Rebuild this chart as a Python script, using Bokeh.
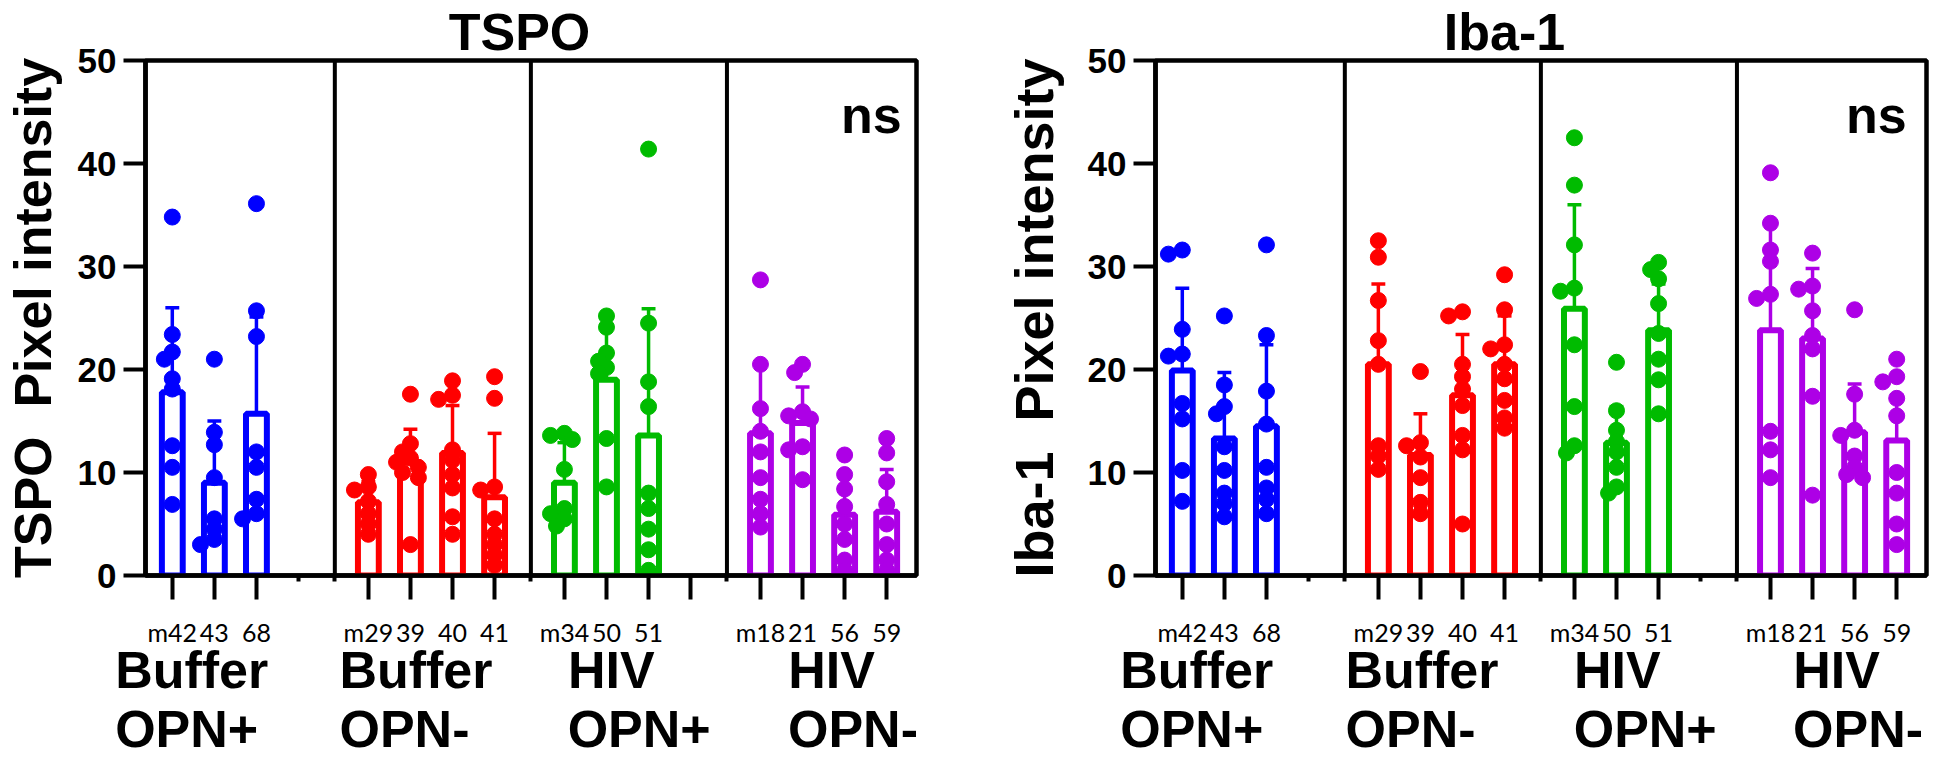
import math
from bokeh.plotting import figure
from bokeh.models import Range1d, FixedTicker, Label, LinearAxis
from bokeh.layouts import row
from bokeh.embed import file_html
from bokeh.resources import INLINE

# ---------------- data ----------------
group_line1 = ["Buffer", "Buffer", "HIV", "HIV"]
group_line2 = ["OPN+", "OPN-", "OPN+", "OPN-"]
animal_labels = [["m42", "43", "68"], ["m29", "39", "40", "41"],
                 ["m34", "50", "51"], ["m18", "21", "56", "59"]]
group_colors = ["#0000FF", "#FF0000", "#00BB00", "#AD00E6"]

tspo_mean = [[17.8, 9.0, 15.7], [7.1, 11.0, 11.9, 7.6],
             [9.0, 19.0, 13.6], [13.8, 14.8, 5.9, 6.2]]
tspo_sd = [[8.2, 6.0, 9.4], [2.0, 3.2, 4.6, 6.2],
           [3.9, 5.3, 12.3], [6.7, 3.5, 3.9, 4.1]]
tspo_points = [
    [[34.8, 23.4, 21.7, 21.0, 19.1, 18.1, 12.6, 10.5, 6.9],
     [21.0, 13.9, 12.7, 9.5, 5.5, 4.5, 3.5, 3.0],
     [36.1, 25.7, 23.2, 12.0, 10.5, 7.4, 6.0, 5.5]],
    [[9.8, 8.6, 8.3, 7.2, 6.0, 5.0, 4.0],
     [17.6, 12.8, 12.0, 11.4, 11.0, 10.5, 10.0, 9.5, 3.0],
     [18.9, 17.5, 17.1, 12.2, 11.2, 9.8, 8.5, 5.7, 4.0],
     [19.3, 17.2, 8.6, 8.3, 5.5, 4.0, 3.0, 2.0, 1.0]],
    [[13.8, 13.6, 13.2, 10.3, 6.5, 6.0, 5.5, 4.8],
     [25.2, 24.1, 21.6, 20.8, 20.2, 19.6, 13.3, 8.6],
     [41.4, 24.5, 18.8, 16.4, 8.0, 6.5, 4.5, 2.5, 0.5]],
    [[28.7, 20.5, 16.2, 14.0, 12.0, 9.5, 7.4, 6.0, 4.7],
     [20.5, 19.7, 15.9, 15.5, 15.2, 12.5, 12.2, 9.3],
     [11.7, 9.8, 8.4, 6.7, 5.0, 3.5, 1.5, 0.5],
     [13.3, 11.9, 9.1, 6.9, 5.0, 3.0, 1.5, 0.5]],
]

iba_mean = [[19.9, 13.3, 14.5], [20.5, 11.7, 17.5, 20.5],
            [25.9, 12.9, 23.8], [23.8, 23.0, 13.9, 13.1]]
iba_sd = [[8.0, 6.4, 7.9], [7.8, 4.0, 5.9, 4.7],
          [10.1, 3.5, 4.5], [10.5, 6.8, 4.7, 4.4]]
iba_points = [
    [[31.6, 31.2, 23.9, 21.5, 21.3, 16.7, 15.2, 10.2, 7.2],
     [25.2, 18.5, 16.4, 15.7, 12.5, 10.2, 8.0, 7.0, 5.7],
     [32.1, 23.3, 17.9, 14.7, 10.5, 8.5, 7.4, 6.0]],
    [[32.5, 30.9, 26.7, 22.8, 20.5, 12.6, 11.6, 10.3],
     [19.8, 12.9, 12.6, 11.5, 9.5, 7.1, 6.0],
     [25.6, 25.2, 20.5, 19.3, 18.1, 16.5, 13.6, 12.2, 5.0],
     [29.2, 25.8, 22.4, 22.0, 20.5, 19.1, 17.0, 15.3, 14.3]],
    [[42.5, 37.9, 32.1, 27.9, 27.6, 22.4, 16.4, 12.6, 11.9],
     [20.7, 16.0, 14.1, 13.0, 12.0, 10.5, 8.6, 8.0],
     [30.4, 29.7, 28.8, 26.4, 23.5, 21.0, 19.0, 15.7]],
    [[39.1, 34.2, 31.6, 30.5, 27.3, 26.9, 14.0, 12.2, 9.5],
     [31.3, 28.1, 27.8, 25.7, 23.3, 22.0, 17.4, 7.8],
     [25.8, 17.6, 14.1, 13.6, 11.6, 10.5, 9.8, 9.5],
     [21.0, 19.3, 18.8, 17.2, 15.5, 10.0, 8.0, 5.0, 3.0]],
]

# ---------------- layout ----------------
SLOT_PX = 42.4
FRAME_W = 777
FRAME_H = 515
X_END = FRAME_W / SLOT_PX
PX_Y = FRAME_H / 50.0
FIRST = 0.637
PERIOD = 4.66
DIV_OFF = -0.16
BAR_W = 21 / SLOT_PX
CAP = 7 / SLOT_PX
BOLD_FONT = "Liberation Sans"
HEIGHT = 760
TOP_B = 60
BOT_B = HEIGHT - TOP_B - FRAME_H
GROUP_SIZE = 52
TITLE_SIZE = 52
# advance widths (1/1000 em) of a bold Arial-metric face, to left-align texts
ADV = {"B": 722, "u": 611, "f": 333, "e": 556, "r": 389, "H": 722, "I": 278,
       "V": 667, "O": 778, "P": 667, "N": 722, "+": 584, "-": 333,
       "T": 611, "S": 667, "b": 611, "a": 556, "1": 556}


def text_w(t, size):
    return sum(ADV[c] for c in t) * size / 1000.0


def slot_x(g, s):
    return round(FIRST + g * PERIOD + s, 3)


def swarm(xc, vals):
    placed = []
    out = []
    for v in vals:
        for off in [0, -8, 8, -14, 14, -20, 20]:
            ok = True
            for (px, py) in placed:
                if math.hypot(px - off, py - v * PX_Y) < 10:
                    ok = False
                    break
            if ok:
                break
        placed.append((off, v * PX_Y))
        out.append(xc + off / SLOT_PX)
    return out


def label_axis(lines, grp_px, standoff):
    ticks, ov = [], {}
    for g, t in enumerate(lines):
        c = round((grp_px[g] + text_w(t, GROUP_SIZE) / 2.0) / SLOT_PX, 4)
        ticks.append(c)
        ov[c] = t
    ax = LinearAxis(ticker=FixedTicker(ticks=ticks, minor_ticks=[]), major_label_overrides=ov)
    ax.axis_line_color = None
    ax.major_tick_line_color = None
    ax.minor_tick_line_color = None
    ax.major_tick_in = 0
    ax.major_tick_out = 0
    ax.major_label_standoff = standoff
    ax.major_label_text_font = BOLD_FONT
    ax.major_label_text_font_style = "bold"
    ax.major_label_text_font_size = "%dpx" % GROUP_SIZE
    ax.major_label_text_color = "black"
    return ax


def make_panel(title, ylabel, means, sds, points, width, left, empty_major, minor_slots,
               title_px, ylab_size, ylab_standoff, ns_px, grp_px):
    right = width - left - FRAME_W
    p = figure(width=width, height=HEIGHT, x_range=Range1d(0, X_END), y_range=Range1d(0, 50),
               output_backend="svg", toolbar_location=None, title=title,
               min_border_left=left, min_border_right=right,
               min_border_top=TOP_B, min_border_bottom=BOT_B)
    p.background_fill_color = "white"
    p.border_fill_color = "white"
    p.outline_line_color = "black"
    p.outline_line_width = 4.5
    p.xgrid.visible = False
    p.ygrid.visible = False

    p.title.align = "left"
    p.title.offset = title_px - text_w(title, TITLE_SIZE) / 2.0
    p.title.standoff = 0
    p.title.text_font = BOLD_FONT
    p.title.text_font_style = "bold"
    p.title.text_font_size = "%dpx" % TITLE_SIZE
    p.title.text_color = "black"

    divs = [round(g * PERIOD + DIV_OFF, 3) for g in range(1, 4)]
    p.segment(x0=divs, y0=[0] * 3, x1=divs, y1=[50] * 3, line_color="black", line_width=4)

    xs, tops, errs, cols = [], [], [], []
    for g in range(4):
        for s, m in enumerate(means[g]):
            xs.append(slot_x(g, s))
            tops.append(m)
            errs.append(m + sds[g][s])
            cols.append(group_colors[g])
    p.vbar(x=xs, top=tops, bottom=0, width=BAR_W, fill_color="white",
           line_color=cols, line_width=6)
    p.segment(x0=xs, y0=tops, x1=xs, y1=errs, line_color=cols, line_width=3.5)
    p.segment(x0=[x - CAP for x in xs], y0=errs, x1=[x + CAP for x in xs], y1=errs,
              line_color=cols, line_width=3.5)

    px, py, pc = [], [], []
    for g in range(4):
        for s, vals in enumerate(points[g]):
            xc = slot_x(g, s)
            px += swarm(xc, vals)
            py += vals
            pc += [group_colors[g]] * len(vals)
    p.scatter(x=px, y=py, size=16, fill_color=pc, line_color=pc)

    ya = p.yaxis[0]
    ya.ticker = FixedTicker(ticks=[0, 10, 20, 30, 40, 50])
    ya.minor_tick_line_color = None
    ya.major_tick_in = 0
    ya.major_tick_out = 22
    ya.major_tick_line_width = 4
    ya.axis_line_width = 4.5
    ya.major_label_text_font = BOLD_FONT
    ya.major_label_text_font_style = "bold"
    ya.major_label_text_font_size = "35px"
    ya.major_label_standoff = 7
    ya.major_label_text_color = "black"
    ya.axis_label = ylabel
    ya.axis_label_text_font = BOLD_FONT
    ya.axis_label_text_font_style = "bold"
    ya.axis_label_text_font_size = ylab_size
    ya.axis_label_text_color = "black"
    ya.axis_label_standoff = ylab_standoff

    majors, overrides = [], {}
    for g in range(4):
        for s, t in enumerate(animal_labels[g]):
            x = slot_x(g, s)
            majors.append(x)
            overrides[x] = t
    for (g, s) in empty_major:
        x = slot_x(g, s)
        majors.append(x)
        overrides[x] = ""
    minors = [slot_x(g, s) for (g, s) in minor_slots] + divs
    xa = p.xaxis[0]
    xa.ticker = FixedTicker(ticks=sorted(majors), minor_ticks=sorted(minors))
    xa.major_label_overrides = overrides
    xa.major_tick_in = 0
    xa.major_tick_out = 24
    xa.minor_tick_in = 0
    xa.minor_tick_out = 6
    xa.major_tick_line_width = 4
    xa.minor_tick_line_width = 4
    xa.axis_line_width = 4.5
    xa.major_label_text_font = "Lato"
    xa.major_label_text_font_size = "25px"
    xa.major_label_text_color = "black"
    xa.major_label_standoff = 17

    p.add_layout(label_axis(group_line1, grp_px, -9), "below")
    p.add_layout(label_axis(group_line2, grp_px, -2), "below")

    p.add_layout(Label(x=X_END - ns_px / SLOT_PX, y=44.7, text="ns", text_font=BOLD_FONT,
                       text_font_size="52px", text_font_style="bold", text_align="right",
                       text_baseline="alphabetic", text_color="black"))
    return p


W1, W2 = 1000, 930
p1 = make_panel("TSPO", "TSPO\u00a0\u00a0Pixel intensity", tspo_mean, tspo_sd, tspo_points,
                W1, 139, empty_major=[(2, 3)], minor_slots=[(0, 3)],
                title_px=374, ylab_size="52px", ylab_standoff=13, ns_px=15,
                grp_px=[-30, 196, 426, 648])
p2 = make_panel("Iba-1", "Iba-1\u00a0\u00a0Pixel intensity", iba_mean, iba_sd, iba_points,
                W2, 149, empty_major=[], minor_slots=[(0, 3), (2, 3)],
                title_px=349, ylab_size="54px", ylab_standoff=21, ns_px=20,
                grp_px=[-35, 192, 422, 643])

layout = row(p1, p2)
open("out.html", "w").write(file_html(layout, INLINE))
